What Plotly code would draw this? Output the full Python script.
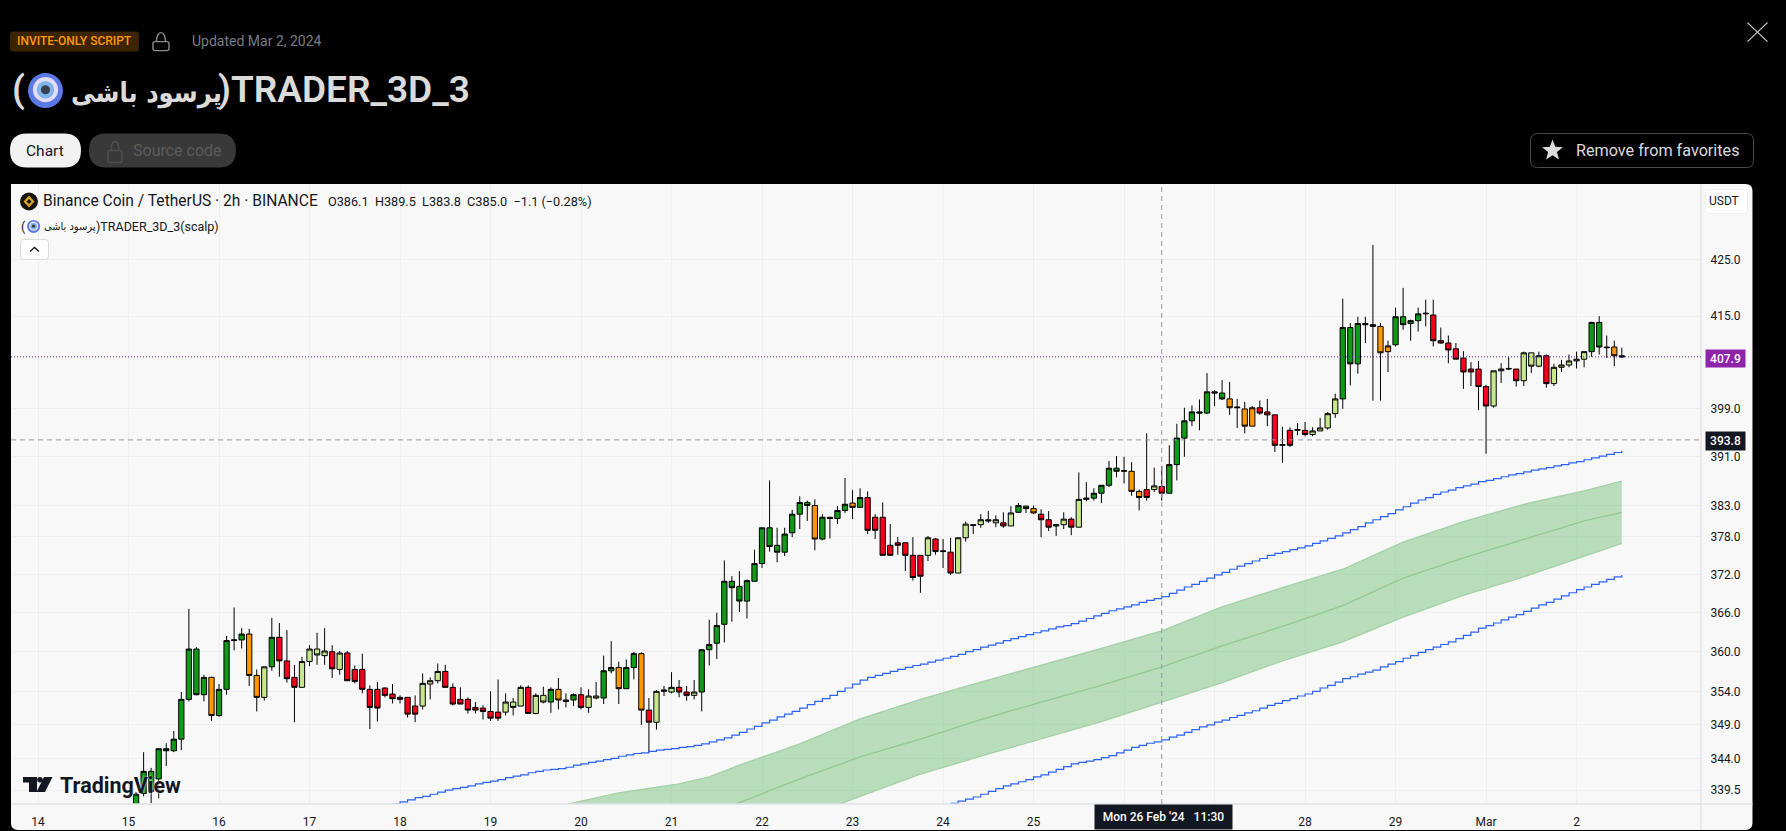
import math
import pandas as pd
import plotly.graph_objects as go

# -----------------------------------------------------
# data (BNB/USDT, 2h bars)
# -----------------------------------------------------
first_bar = "2024-02-15 02:00"

opens = [
    335.0, 339.0, 342.2, 341.1, 345.5, 345.2, 346.9, 352.8, 360.4, 353.5,
    356.1, 350.4, 354.3, 361.7, 361.8, 362.7, 356.4, 353.1, 357.7, 362.2,
    358.6, 356.1, 354.6, 358.5, 360.4, 359.4, 360.0, 357.3, 359.8, 357.3,
    357.3, 354.3, 354.3, 354.5, 353.6, 353.1, 353.1, 351.8, 351.8, 355.1,
    355.6, 357.0, 354.6, 352.8, 352.8, 351.6, 351.5, 351.0, 350.9, 350.9,
    352.4, 351.8, 354.6, 350.7, 353.4, 352.4, 354.3, 352.7, 352.7, 353.5,
    351.6, 353.0, 353.0, 357.1, 357.6, 354.4, 357.6, 359.7, 351.2, 349.4,
    354.0, 353.9, 354.6, 353.9, 353.4, 353.9, 360.3, 361.3, 364.2, 370.9,
    370.1, 367.8, 370.9, 373.7, 379.4, 376.6, 375.5, 378.6, 381.6, 383.5,
    383.0, 377.6, 381.1, 380.9, 382.2, 383.4, 382.7, 384.3, 381.1, 381.1,
    376.6, 377.0, 377.0, 375.0, 375.0, 375.0, 377.6, 375.6, 375.5, 372.2,
    377.8, 379.9, 379.9, 380.7, 380.2, 380.2, 379.7, 381.9, 382.9, 382.5,
    381.6, 380.7, 379.7, 379.9, 380.8, 379.5, 384.0, 384.2, 385.0, 386.3,
    389.1, 388.6, 388.6, 385.3, 385.6, 385.6, 386.1, 385.0, 389.7, 394.1,
    397.0, 398.5, 398.3, 401.9, 401.7, 400.7, 399.2, 399.0, 396.1, 399.2,
    398.5, 398.0, 392.9, 395.4, 395.4, 395.4, 394.7, 395.3, 395.8, 398.2,
    400.7, 413.0, 406.7, 413.7, 413.5, 413.2, 408.8, 410.0, 414.9, 413.7,
    414.2, 415.4, 415.2, 410.7, 410.3, 409.3, 407.7, 405.8, 405.8, 402.8,
    399.5, 405.5, 405.8, 405.8, 403.8, 408.6, 406.3, 408.1, 403.3, 406.1,
    406.5, 407.2, 407.5, 408.8, 413.9, 409.6, 409.6, 408.1,
]
highs = [
    339.2, 345.0, 342.7, 345.5, 346.3, 348.1, 353.9, 366.6, 360.7, 356.5,
    356.2, 355.1, 362.4, 366.8, 363.6, 363.5, 357.3, 357.7, 365.2, 364.4,
    363.3, 358.0, 359.2, 361.0, 362.9, 363.6, 361.0, 360.1, 360.1, 357.9,
    359.7, 354.9, 355.4, 354.6, 355.1, 353.4, 353.1, 353.4, 356.7, 356.1,
    358.2, 358.0, 355.2, 354.6, 353.1, 352.4, 351.9, 354.0, 355.8, 353.7,
    353.0, 354.9, 354.9, 353.7, 354.7, 354.6, 356.0, 353.7, 353.7, 354.6,
    354.3, 355.4, 359.4, 361.6, 358.5, 358.8, 360.0, 359.9, 353.0, 354.2,
    354.8, 356.9, 355.7, 354.8, 355.7, 360.4, 364.9, 366.0, 374.2, 371.7,
    372.5, 371.2, 375.9, 379.4, 387.1, 379.4, 379.4, 382.3, 384.5, 383.8,
    384.0, 381.6, 381.1, 382.9, 387.5, 385.5, 385.8, 385.3, 381.6, 383.5,
    380.0, 377.9, 377.1, 377.9, 375.0, 378.1, 377.8, 377.6, 377.8, 377.9,
    380.4, 380.0, 381.6, 382.1, 381.4, 381.9, 382.9, 383.4, 383.0, 383.0,
    382.4, 382.1, 380.0, 381.9, 381.1, 388.4, 386.8, 385.8, 386.3, 390.3,
    391.1, 391.0, 390.1, 385.6, 394.9, 389.2, 389.5, 392.9, 396.5, 399.2,
    399.6, 400.6, 405.1, 402.2, 403.9, 403.6, 400.7, 400.2, 399.5, 400.4,
    400.7, 398.0, 396.0, 395.9, 396.6, 396.8, 395.9, 397.5, 398.5, 401.6,
    418.1, 413.8, 414.9, 414.9, 427.7, 413.8, 410.7, 416.5, 420.0, 414.4,
    416.5, 417.9, 417.9, 413.0, 411.6, 410.3, 408.9, 407.0, 407.2, 403.1,
    405.5, 406.8, 407.9, 405.8, 408.8, 408.6, 408.8, 408.3, 406.7, 407.4,
    408.3, 408.8, 408.8, 414.0, 415.0, 411.6, 410.7, 409.5,
]
lows = [
    334.0, 338.6, 337.6, 338.3, 343.0, 345.0, 345.3, 352.5, 353.4, 352.5,
    349.6, 350.2, 353.5, 360.2, 360.5, 354.8, 351.0, 352.6, 357.1, 356.2,
    355.3, 349.4, 354.5, 357.8, 358.0, 358.0, 356.0, 356.5, 355.6, 355.2,
    353.7, 348.4, 349.5, 353.1, 352.2, 352.2, 350.1, 349.4, 351.3, 352.8,
    355.2, 354.6, 351.9, 352.1, 350.7, 350.7, 349.8, 349.6, 349.6, 350.4,
    350.4, 351.8, 350.7, 350.6, 352.2, 350.8, 351.3, 351.6, 351.8, 351.3,
    350.8, 352.8, 352.1, 356.7, 352.1, 354.4, 355.8, 349.0, 344.9, 348.3,
    353.3, 353.7, 353.1, 352.6, 352.8, 351.0, 357.9, 358.9, 361.4, 364.6,
    366.1, 365.1, 370.9, 373.0, 375.6, 373.9, 374.9, 377.9, 379.2, 380.5,
    375.8, 377.4, 377.7, 380.0, 381.8, 380.8, 382.7, 378.4, 377.6, 374.9,
    374.9, 375.1, 372.5, 371.0, 369.1, 374.1, 375.1, 373.0, 371.9, 372.2,
    377.2, 378.4, 379.4, 380.2, 379.5, 379.4, 379.7, 381.8, 381.8, 381.6,
    377.9, 378.9, 378.1, 379.2, 378.2, 379.5, 383.7, 383.8, 383.4, 386.0,
    387.6, 386.6, 384.6, 382.2, 383.8, 385.2, 383.8, 385.0, 387.1, 391.0,
    396.1, 395.4, 398.1, 399.5, 400.5, 398.0, 395.8, 394.9, 396.1, 398.0,
    396.1, 391.8, 390.0, 392.6, 394.6, 394.4, 394.4, 395.3, 395.5, 397.5,
    399.0, 403.0, 405.0, 410.3, 400.4, 400.4, 405.3, 409.7, 412.6, 410.7,
    412.3, 413.2, 409.7, 410.2, 406.8, 407.5, 402.4, 402.9, 398.8, 391.5,
    399.2, 403.4, 405.6, 402.8, 402.9, 405.1, 406.1, 402.6, 402.9, 405.3,
    406.1, 405.9, 406.1, 407.9, 408.3, 407.7, 406.3, 407.7,
]
closes = [
    338.9, 342.2, 339.3, 345.5, 345.2, 346.9, 352.8, 360.4, 353.5, 356.1,
    350.4, 354.3, 361.7, 361.8, 362.7, 356.4, 353.1, 357.7, 362.2, 358.6,
    355.9, 354.6, 358.5, 360.4, 359.5, 360.1, 357.4, 359.8, 355.6, 355.5,
    354.3, 351.6, 351.5, 353.4, 352.9, 352.8, 350.6, 350.6, 355.2, 355.6,
    357.0, 354.6, 352.1, 352.1, 351.2, 351.2, 351.0, 350.0, 350.0, 352.4,
    351.6, 354.6, 350.7, 353.4, 352.4, 354.3, 352.7, 352.5, 353.5, 351.6,
    353.3, 353.3, 357.1, 357.6, 354.4, 357.6, 359.7, 351.2, 349.4, 354.0,
    354.2, 354.6, 353.9, 353.4, 353.9, 360.3, 361.1, 364.0, 370.9, 369.9,
    367.8, 371.0, 373.7, 379.4, 376.4, 375.5, 378.4, 381.6, 383.5, 383.0,
    377.6, 381.1, 380.9, 382.2, 383.2, 382.7, 384.3, 379.0, 379.0, 375.0,
    375.0, 376.6, 375.0, 371.5, 371.7, 377.8, 375.6, 375.7, 372.2, 377.8,
    380.0, 379.8, 380.7, 380.5, 380.7, 379.7, 381.8, 383.0, 382.5, 381.8,
    380.7, 379.5, 379.9, 380.8, 379.5, 384.0, 384.2, 385.0, 386.3, 389.1,
    388.6, 388.7, 385.3, 384.3, 384.3, 386.2, 385.0, 389.7, 394.1, 397.0,
    398.5, 398.3, 401.9, 401.7, 400.7, 399.2, 399.3, 396.1, 399.2, 398.3,
    398.0, 392.9, 393.0, 392.9, 395.5, 394.7, 395.3, 395.8, 398.2, 400.7,
    413.0, 406.7, 413.7, 413.5, 413.2, 408.6, 409.8, 414.9, 413.5, 414.2,
    415.4, 415.5, 410.7, 410.3, 409.1, 407.5, 405.3, 405.3, 402.8, 399.5,
    405.5, 405.8, 405.9, 403.8, 408.6, 406.3, 408.1, 403.3, 406.1, 406.5,
    407.2, 407.5, 408.8, 413.9, 409.6, 409.5, 408.1, 407.9,
]
# d dark green, l light green, r red, o orange (ten bars to a string)
bar_colors = list(
    "dddddddddd" "oddddooldr" "rrllllrlrr" "rrrrrrrrll" "lrrrrrrrrl"
    "llrlldoddr" "llddoddorl" "llrrlddddd" "dddddddddd" "oddddodrrr"
    "rrrrrlrdrl" "ldlllrlddo" "rrdlrldddd" "ddoorlrddd" "dddddodoor"
    "rrdrlrllll" "dddddooddd" "ddrrrrrrrr" "lllrlllrll" "llldddod"
)

# upper blue line, one value per bar from bar 34 on
upper_start = 34
upper_line = [
    337.5, 337.8, 338.1, 338.4, 338.6, 338.9, 339.2, 339.5, 339.7, 339.9,
    340.1, 340.4, 340.6, 340.8, 341.0, 341.3, 341.5, 341.7, 342.0, 342.2,
    342.4, 342.5, 342.6, 342.8, 343.1, 343.3, 343.5, 343.7, 343.9, 344.1,
    344.4, 344.6, 344.8, 344.9, 345.1, 345.3, 345.4, 345.5, 345.7, 345.8,
    346.0, 346.2, 346.5, 346.8, 347.1, 347.5, 347.9, 348.4, 348.8, 349.3,
    349.7, 350.2, 350.6, 351.0, 351.5, 352.0, 352.5, 352.9, 353.4, 354.0,
    354.5, 355.1, 355.7, 356.1, 356.4, 356.7, 357.0, 357.3, 357.6, 357.9,
    358.1, 358.4, 358.7, 359.0, 359.3, 359.6, 360.0, 360.3, 360.7, 361.0,
    361.3, 361.7, 362.0, 362.3, 362.6, 362.9, 363.2, 363.5, 363.8, 364.0,
    364.3, 364.7, 365.1, 365.5, 365.9, 366.3, 366.6, 366.9, 367.2, 367.6,
    367.9, 368.2, 368.5, 369.0, 369.5, 370.0, 370.4, 370.9, 371.4, 371.9,
    372.3, 372.8, 373.3, 373.7, 374.1, 374.5, 375.0, 375.3, 375.6, 375.9,
    376.2, 376.5, 376.9, 377.3, 377.7, 378.1, 378.6, 379.1, 379.6, 380.2,
    380.7, 381.2, 381.7, 382.3, 382.8, 383.4, 383.9, 384.3, 384.8, 385.2,
    385.5, 385.9, 386.2, 386.5, 386.9, 387.1, 387.4, 387.7, 388.0, 388.2,
    388.5, 388.8, 389.0, 389.2, 389.5, 389.7, 390.0, 390.2, 390.5, 390.8,
    391.1, 391.4, 391.7, 392.0,
]
# lower blue line, one value per bar from bar 108 on
lower_start = 108
lower_line = [
    337.6, 337.9, 338.2, 338.5, 338.9, 339.3, 339.7, 340.1, 340.4, 340.7,
    341.0, 341.4, 341.7, 342.1, 342.5, 342.9, 343.3, 343.5, 343.7, 343.9,
    344.2, 344.5, 344.9, 345.3, 345.7, 346.0, 346.3, 346.5, 346.8, 347.2,
    347.5, 347.9, 348.3, 348.7, 349.0, 349.4, 349.7, 350.1, 350.4, 350.8,
    351.1, 351.5, 351.9, 352.2, 352.6, 352.9, 353.3, 353.6, 354.0, 354.5,
    354.9, 355.4, 355.9, 356.2, 356.6, 356.9, 357.2, 357.7, 358.1, 358.5,
    359.0, 359.4, 359.9, 360.3, 360.7, 361.1, 361.5, 362.0, 362.5, 363.0,
    363.6, 364.0, 364.4, 364.9, 365.3, 365.7, 366.2, 366.7, 367.2, 367.6,
    368.1, 368.6, 369.1, 369.6, 370.0, 370.4, 370.8, 371.2, 371.6, 371.9,
]
# green band, sampled at these bars
band_bars = [56, 64, 72, 76, 80, 88, 96, 104, 112, 120, 128, 136, 144, 152, 160, 168, 176, 184, 192, 197]
band_top = [337.2, 339.1, 340.4, 341.4, 343.1, 346.2, 349.9, 352.8, 355.4, 357.9,
            360.5, 363.2, 366.9, 369.9, 372.8, 377.1, 380.4, 383.2, 385.4, 387.0]
band_mid = [331.7, 333.6, 335.4, 336.4, 337.7, 341.1, 344.3, 346.9, 349.8, 352.4,
            354.9, 357.7, 360.9, 363.9, 367.1, 371.4, 374.6, 377.5, 380.5, 381.9]
band_low = [326.4, 327.6, 329.9, 331.2, 332.2, 335.3, 338.6, 341.8, 344.4, 346.9,
            349.5, 352.4, 355.3, 358.6, 361.5, 365.3, 368.7, 371.6, 374.8, 376.9]

price_ticks = [425.0, 415.0, 399.0, 391.0, 383.0, 378.0, 372.0, 366.0, 360.0, 354.0, 349.0, 344.0, 339.5]
day_ticks = ["2024-02-%02d" % d for d in range(14, 30)] + ["2024-03-01", "2024-03-02"]
# 26 and 27 sit behind the crosshair date box
day_labels = ["14", "15", "16", "17", "18", "19", "20", "21", "22", "23", "24", "25", "", "", "28", "29", "Mar", "2"]
last_price = 407.9
cross_price = 393.8
cross_bar = 136

fill_colors = {"d": "#109a18", "l": "#c5e78e", "r": "#f7001e", "o": "#ff9800"}

# -----------------------------------------------------
# page layout in screen pixels
# -----------------------------------------------------
W, H = 1786, 831
L, R, T, B = 11, 1701.5, 183.5, 804
FONT = "Roboto, Liberation Sans, sans-serif"
ARABIC = "DejaVu Sans Condensed, DejaVu Sans"
PANEL = "#f8f8f8"


def fx(px):
    return (px - L) / (R - L)


def fy(py):
    return (B - py) / (B - T)


def label(x, y, text, size=13, color="#131722", anchor="left", font=FONT, weight=400, shadow=None):
    style = dict(size=size, color=color, family=font, weight=weight)
    if shadow:
        style["shadow"] = shadow
    return dict(xref="paper", yref="paper", x=fx(x), y=fy(y), text=text, showarrow=False,
                xanchor=anchor, yanchor="middle", borderpad=0, font=style)


def box(x, y, w, h, text, color, size=12):
    return dict(xref="paper", yref="paper", x=fx(x), y=fy(y), text=text, showarrow=False,
                xanchor="left", yanchor="top", width=w, height=h, bgcolor=color, borderpad=0,
                font=dict(size=size, color="#ffffff", family=FONT, weight=500))


def round_rect(x0, y0, x1, y1, r):
    p = lambda a, b: "%.5f %.5f" % (fx(a), fy(b))
    return ("M" + p(x0 + r, y0) + " L" + p(x1 - r, y0) + " Q" + p(x1, y0) + " " + p(x1, y0 + r)
            + " L" + p(x1, y1 - r) + " Q" + p(x1, y1) + " " + p(x1 - r, y1)
            + " L" + p(x0 + r, y1) + " Q" + p(x0, y1) + " " + p(x0, y1 - r)
            + " L" + p(x0, y0 + r) + " Q" + p(x0, y0) + " " + p(x0 + r, y0) + " Z")


def poly(points):
    return "M" + " L".join("%.5f %.5f" % (fx(a), fy(b)) for a, b in points) + " Z"


def path_shape(path, fill=None, line=None, width=1, layer="above"):
    return dict(type="path", xref="paper", yref="paper", path=path, layer=layer,
                fillcolor=fill if fill else "rgba(0,0,0,0)",
                line=dict(color=line if line else "rgba(0,0,0,0)", width=width if line else 0))


def circle(cx, cy, r, fill):
    return dict(type="circle", xref="paper", yref="paper", x0=fx(cx - r), x1=fx(cx + r),
                y0=fy(cy + r), y1=fy(cy - r), fillcolor=fill, line=dict(width=0), layer="above")


def eye(cx, cy, r):
    return [circle(cx, cy, r, "#5b79e6"), circle(cx, cy - r * 0.05, r * 0.72, "#e3dcf7"),
            circle(cx, cy - r * 0.05, r * 0.5, "#7fb4ea"), circle(cx, cy - r * 0.05, r * 0.26, "#39404f")]


def star(cx, cy, r):
    pts = []
    for k in range(10):
        rad = r if k % 2 == 0 else r * 0.42
        ang = -math.pi / 2 + k * math.pi / 5
        pts.append((cx + rad * math.cos(ang), cy + rad * math.sin(ang)))
    return poly(pts)


# -----------------------------------------------------
# traces
# -----------------------------------------------------
lengths = [len(opens), len(highs), len(lows), len(closes), len(bar_colors)]
assert lengths == [198] * 5, lengths
times = pd.date_range(first_bar, periods=len(opens), freq="2h")
band_x = [times[i] for i in band_bars]

fig = go.Figure()
fig.add_trace(go.Scatter(x=band_x, y=band_low, mode="lines", line=dict(color="#a3d2a5", width=1.3), hoverinfo="skip"))
fig.add_trace(go.Scatter(x=band_x, y=band_top, mode="lines", line=dict(color="#a3d2a5", width=1.3),
                         fill="tonexty", fillcolor="rgba(76,175,80,0.36)", hoverinfo="skip"))
fig.add_trace(go.Scatter(x=band_x, y=band_mid, mode="lines", line=dict(color="#93c896", width=1.3), hoverinfo="skip"))
fig.add_trace(go.Scatter(x=times[upper_start:upper_start + len(upper_line)], y=upper_line, mode="lines",
                         line=dict(color="#2962ff", width=1.2, shape="hv"), hoverinfo="skip"))
fig.add_trace(go.Scatter(x=times[lower_start:lower_start + len(lower_line)], y=lower_line, mode="lines",
                         line=dict(color="#2962ff", width=1.2, shape="hv"), hoverinfo="skip"))

for code, color in fill_colors.items():
    idx = [i for i, c in enumerate(bar_colors) if c == code]
    side = dict(fillcolor=color, line=dict(color="#000000", width=1))
    fig.add_trace(go.Candlestick(
        x=[times[i] for i in idx],
        open=[opens[i] for i in idx],
        high=[highs[i] for i in idx],
        low=[lows[i] for i in idx],
        close=[closes[i] for i in idx],
        increasing=side, decreasing=side, whiskerwidth=0, hoverinfo="skip",
    ))

# -----------------------------------------------------
# page furniture
# -----------------------------------------------------
shapes = [
    path_shape(round_rect(L, T, 1753, 830, 7), fill=PANEL, layer="below"),
    # axis borders
    dict(type="line", xref="paper", yref="paper", x0=fx(L), x1=fx(1753), y0=fy(B), y1=fy(B),
         line=dict(color="#e0e3e6", width=1.5), layer="above"),
    dict(type="line", xref="paper", yref="paper", x0=fx(R), x1=fx(R), y0=fy(T), y1=fy(830),
         line=dict(color="#e0e3e6", width=1.5), layer="above"),
    # crosshair and last price
    dict(type="line", xref="x", yref="paper", x0=times[cross_bar], x1=times[cross_bar], y0=0, y1=1,
         line=dict(color="#9598a1", width=1, dash="5px,4px"), layer="above"),
    dict(type="line", xref="paper", yref="y", x0=0, x1=1, y0=cross_price, y1=cross_price,
         line=dict(color="#9598a1", width=1, dash="5px,4px"), layer="above"),
    dict(type="line", xref="paper", yref="y", x0=0, x1=1, y0=last_price, y1=last_price,
         line=dict(color="#5e1fa8", width=1, dash="1px,2px"), layer="above"),
    # header badge, buttons
    path_shape(round_rect(10, 31, 139, 51, 3), fill="#3d2400"),
    path_shape(round_rect(10, 133, 81, 167, 17), fill="#f2f2f2"),
    path_shape(round_rect(89, 133, 236, 167, 17), fill="#393939"),
    path_shape(round_rect(1531, 133, 1754, 167, 7), line="#4a4a4a", width=1),
    path_shape(star(1553, 150, 11), fill="#dbdbdb"),
    # padlocks
    path_shape(round_rect(153, 41, 169, 50, 2), line="#8b8b8b", width=1.4),
    path_shape("M%.5f %.5f C%.5f %.5f %.5f %.5f %.5f %.5f" % (fx(156.5), fy(41), fx(156.5), fy(29), fx(165.5), fy(29), fx(165.5), fy(41)),
               line="#8b8b8b", width=1.4),
    path_shape(round_rect(108, 150, 122, 162, 2), line="#4f4f4f", width=1.4),
    path_shape("M%.5f %.5f C%.5f %.5f %.5f %.5f %.5f %.5f" % (fx(111), fy(150), fx(111), fy(138), fx(119), fy(138), fx(119), fy(150)),
               line="#4f4f4f", width=1.4),
    # close cross
    dict(type="line", xref="paper", yref="paper", x0=fx(1748), x1=fx(1768), y0=fy(22), y1=fy(41),
         line=dict(color="#d0d0d0", width=1.2), layer="above"),
    dict(type="line", xref="paper", yref="paper", x0=fx(1748), x1=fx(1768), y0=fy(41), y1=fy(22),
         line=dict(color="#d0d0d0", width=1.2), layer="above"),
    # currency box, collapse button
    path_shape(round_rect(1706, 189, 1748, 213, 3), fill="#ffffff", line="#eeeeee", width=1),
    path_shape(round_rect(20.5, 239, 48.5, 259, 3), fill="#fdfdfd", line="#d8dadd", width=1),
    path_shape("M%.5f %.5f L%.5f %.5f L%.5f %.5f" % (fx(30), fy(251), fx(34.5), fy(247), fx(39), fy(251)),
               line="#131722", width=1.4),
    # symbol logo
    circle(29, 201, 9, "#16130c"),
    path_shape(poly([(29, 195), (34.5, 201), (29, 207), (23.5, 201)]), fill="#d9a520"),
    path_shape(poly([(29, 198.5), (31.5, 201), (29, 203.5), (26.5, 201)]), fill="#16130c"),
    # TradingView mark
    path_shape(poly([(23, 777), (37, 777), (37, 792), (29, 792), (29, 782.5), (23, 782.5)]), fill="#131722"),
    circle(40, 779.7, 2.8, "#131722"),
    path_shape(poly([(44, 777), (52.5, 777), (45, 792), (36.5, 792)]), fill="#131722"),
]
shapes += eye(45.5, 90, 17.5)
shapes += eye(33.6, 226, 6.5)

annotations = [
    label(16, 40, "INVITE-ONLY SCRIPT", size=12, color="#ff9800", weight=500),
    label(191, 40, "Updated Mar 2, 2024", size=14, color="#787b86"),
    label(11, 89, "(", size=37, color="#dbdbdb", weight=600),
    label(70, 92, "پرسود باشی", size=27, color="#dbdbdb", font=ARABIC, weight=700),
    label(217, 89, ")TRADER_3D_3", size=37, color="#dbdbdb", weight=600),
    label(45.5, 150, "Chart", size=15.5, color="#131722", anchor="center"),
    label(132, 150, "Source code", size=16, color="#5c5c5c"),
    label(1575, 150, "Remove from favorites", size=16.2, color="#dbdbdb"),
    label(42, 201, "Binance Coin / TetherUS · 2h · BINANCE", size=15.6, color="#131722"),
    label(327, 201, "O386.1  H389.5  L383.8  C385.0  −1.1 (−0.28%)", size=12.7, color="#131722"),
    label(20, 226, "(", size=12.5, color="#131722"),
    label(43, 226.5, "پرسود باشی", size=11, color="#131722", font=ARABIC),
    label(95, 226, ")TRADER_3D_3(scalp)", size=12.5, color="#131722"),
    label(1709, 201, "USDT", size=12, color="#131722"),
    label(59, 785, "TradingView", size=21.5, color="#131722", weight=700, shadow="0 0 3px #ffffff"),
    box(1094, 804, 137, 24, "Mon 26 Feb '24   11:30", "#131722"),
    box(1706, 348.5, 39, 17, "407.9", "#8e24aa"),
    box(1706, 430.5, 39, 18, "393.8", "#131722"),
]

no_tick = "rgba(0,0,0,0)"
fig.update_layout(
    width=W, height=H,
    margin=dict(l=L, r=W - R, t=T, b=H - B, pad=0),
    paper_bgcolor="#000000",
    plot_bgcolor=PANEL,
    showlegend=False,
    boxgap=0.3, boxgroupgap=0,
    shapes=shapes,
    annotations=annotations,
    xaxis=dict(
        type="date", range=["2024-02-13 16:50", "2024-03-03 09:00"], automargin=False,
        rangeslider=dict(visible=False),
        tickmode="array", tickvals=day_ticks, ticktext=day_labels,
        ticks="outside", ticklen=7, tickcolor=no_tick,
        tickfont=dict(size=12, color="#131722", family=FONT),
        showgrid=True, gridcolor="#eeeff0", gridwidth=1, zeroline=False, showline=False,
    ),
    yaxis=dict(
        type="log", side="right", automargin=False,
        range=[math.log10(337.5), math.log10(438.9)],
        tickmode="array", tickvals=price_ticks, ticktext=["%.1f" % v for v in price_ticks],
        ticks="outside", ticklen=6, tickcolor=no_tick,
        tickfont=dict(size=12, color="#131722", family=FONT),
        showgrid=True, gridcolor="#eeeff0", gridwidth=1, zeroline=False, showline=False,
    ),
)

fig.write_html("out.html", config={"displayModeBar": False},
               post_script="document.body.style.margin='0';document.body.style.background='#000';")
